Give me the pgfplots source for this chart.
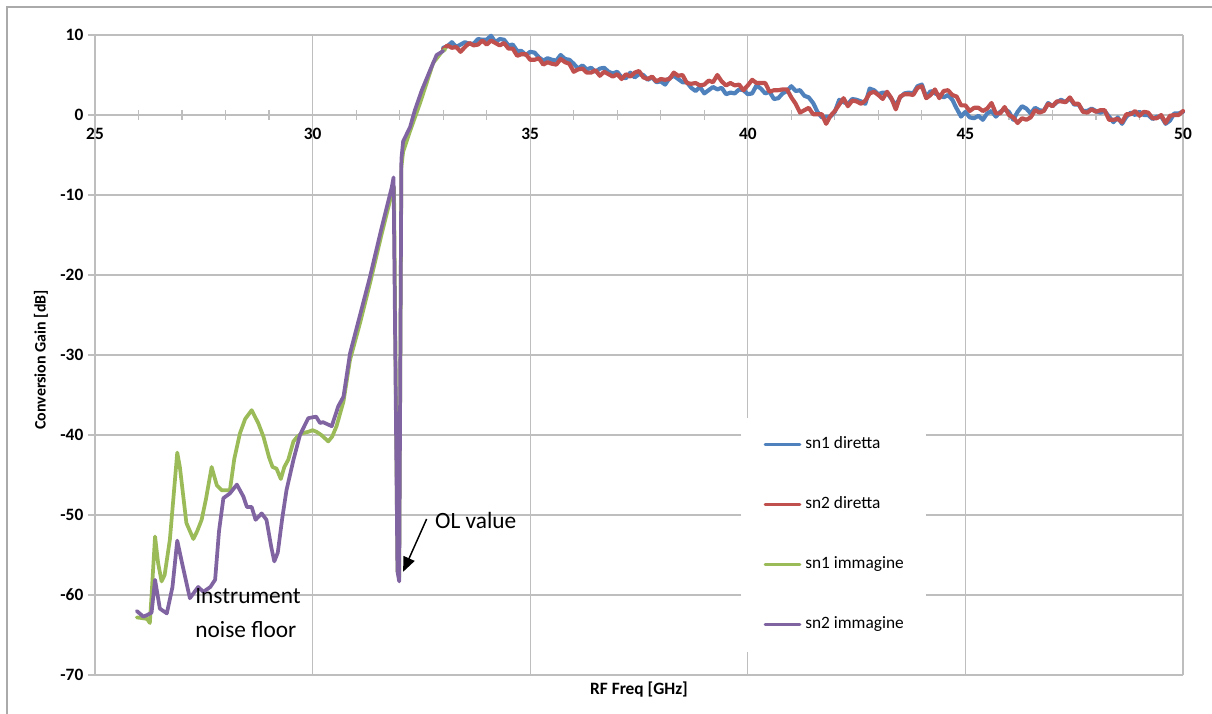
\documentclass[border=0pt]{standalone}
\usepackage{pgfplots}
\pgfplotsset{compat=1.18}
\usepackage{fontspec}
\setmainfont{Carlito}
\usetikzlibrary{arrows.meta}
\definecolor{cblue}{RGB}{79,129,189}
\definecolor{cred}{RGB}{192,80,77}
\definecolor{cgreen}{RGB}{155,187,89}
\definecolor{cpurple}{RGB}{128,100,162}
\definecolor{gridc}{RGB}{190,190,190}
\definecolor{framec}{RGB}{170,170,170}
\begin{document}
\begin{tikzpicture}[x=0.75pt,y=0.75pt]
\useasboundingbox (0,0) rectangle (1212,713);
\draw[framec, line width=1pt] (7,-20) -- (7,706) -- (1240,706);
\begin{axis}[
  at={(71.25pt,28.5pt)}, anchor=south west,
  scale only axis, width=816pt, height=480pt,
  xmin=25, xmax=50, ymin=-70, ymax=10,
  axis x line=middle, axis y line=left,
  every inner x axis line/.append style={-},
  every outer x axis line/.append style={-},
  every outer y axis line/.append style={-},
  axis line style={-, draw=gridc, line width=1pt},
  hide obscured x ticks=false, hide obscured y ticks=false,
  xtick={25,30,35,40,45,50}, xticklabels={25,30,35,40,45,50},
  ytick={-70,-60,-50,-40,-30,-20,-10,0,10},
  yticklabels={-70,-60,-50,-40,-30,-20,-10,0,10},
  minor x tick num=4,
  xtick align=center, ytick align=outside,
  major tick length=5.25pt, minor tick length=7.5pt,
  tick style={draw=gridc, line width=0.9pt},
  xmajorgrids, ymajorgrids,
  major grid style={draw=gridc, line width=1pt},
  ticklabel style={font=\bfseries\fontsize{13}{15}\selectfont, text=black},
  xticklabel style={anchor=north, yshift=-4pt},
  legend cell align=left,
  legend image code/.code={\draw[#1, line width=2.2pt] (0pt,0pt) -- (26pt,0pt);},
  legend style={at={(axis description cs:0.679,0.219)}, anchor=center,
    fill=white, draw=none, inner xsep=17pt, inner ysep=14pt,
    row sep=33pt, column sep=3pt,
    font=\fontsize{13}{15}\selectfont,
    nodes={inner sep=0pt, text height=9pt, text depth=3pt}},
  every axis plot/.append style={line width=2.8pt, line join=round, line cap=round},
  clip=false,
]
\addplot[cblue, line width=3.1pt] coordinates {(33.0,8.4)(33.1,8.6)(33.2,9.1)(33.3,8.5)(33.4,8.8)(33.5,9.1)(33.6,8.9)(33.7,8.9)(33.8,9.5)(33.9,9.4)(34.0,9.4)(34.1,9.9)(34.2,9.1)(34.3,9.5)(34.4,9.4)(34.5,8.7)(34.6,8.8)(34.7,8.0)(34.8,8.0)(34.9,7.5)(35.0,7.9)(35.1,7.8)(35.2,7.2)(35.3,6.8)(35.4,7.1)(35.5,6.9)(35.6,6.8)(35.7,7.5)(35.8,7.0)(35.9,6.9)(36.0,6.4)(36.1,5.8)(36.2,6.2)(36.3,5.7)(36.4,5.9)(36.5,5.4)(36.6,5.8)(36.7,5.9)(36.8,5.4)(36.9,5.2)(37.0,5.4)(37.1,4.7)(37.2,4.6)(37.3,5.3)(37.4,4.7)(37.5,5.1)(37.6,5.0)(37.7,4.4)(37.8,4.7)(37.9,4.1)(38.0,4.2)(38.1,3.8)(38.2,4.6)(38.3,4.9)(38.4,4.5)(38.5,4.1)(38.6,4.1)(38.7,3.4)(38.8,3.0)(38.9,3.5)(39.0,2.7)(39.1,3.1)(39.2,3.5)(39.3,3.2)(39.4,3.4)(39.5,2.6)(39.6,2.8)(39.7,2.7)(39.8,3.2)(39.9,3.1)(40.0,2.6)(40.1,2.7)(40.2,3.7)(40.3,3.3)(40.4,2.7)(40.5,2.9)(40.6,2.0)(40.7,2.1)(40.8,2.7)(40.9,3.0)(41.0,3.6)(41.1,3.0)(41.2,3.1)(41.3,2.4)(41.4,2.2)(41.5,1.5)(41.6,0.4)(41.7,-0.3)(41.8,-0.2)(41.9,-0.2)(42.0,0.4)(42.1,1.9)(42.2,1.6)(42.3,1.4)(42.4,2.0)(42.5,1.9)(42.6,1.7)(42.7,1.4)(42.8,3.3)(42.9,3.1)(43.0,2.6)(43.1,2.8)(43.2,2.8)(43.3,2.0)(43.4,1.2)(43.5,2.2)(43.6,2.7)(43.7,2.8)(43.8,2.7)(43.9,3.6)(44.0,3.8)(44.1,2.2)(44.2,3.0)(44.3,2.7)(44.4,2.5)(44.5,2.2)(44.6,2.5)(44.7,1.9)(44.8,0.8)(44.9,-0.2)(45.0,0.4)(45.1,-0.3)(45.2,-0.4)(45.3,-0.1)(45.4,-0.6)(45.5,0.2)(45.6,0.5)(45.7,-0.2)(45.8,0.4)(45.9,0.7)(46.0,0.4)(46.1,-0.6)(46.2,0.4)(46.3,1.1)(46.4,0.8)(46.5,0.2)(46.6,0.9)(46.7,0.6)(46.8,0.5)(46.9,1.5)(47.0,1.1)(47.1,1.6)(47.2,1.9)(47.3,1.6)(47.4,2.1)(47.5,1.3)(47.6,1.3)(47.7,0.5)(47.8,0.5)(47.9,0.8)(48.0,0.5)(48.1,0.3)(48.2,0.5)(48.3,-0.2)(48.4,-0.9)(48.5,-0.3)(48.6,-1.1)(48.7,-0.2)(48.8,0.3)(48.9,0.0)(49.0,0.4)(49.1,0.0)(49.2,0.0)(49.3,-0.5)(49.4,-0.2)(49.5,-0.2)(49.6,-1.1)(49.7,-0.7)(49.8,0.2)(49.9,0.2)(50.0,0.4)};
\addlegendentry{sn1 diretta}
\addplot[cred, line width=3.1pt] coordinates {(33.0,8.2)(33.1,8.7)(33.2,8.4)(33.3,8.5)(33.4,7.9)(33.5,8.5)(33.6,9.0)(33.7,8.7)(33.8,8.8)(33.9,9.3)(34.0,8.8)(34.1,9.3)(34.2,9.0)(34.3,8.7)(34.4,9.0)(34.5,8.3)(34.6,8.3)(34.7,7.4)(34.8,7.6)(34.9,7.6)(35.0,6.9)(35.1,6.9)(35.2,7.1)(35.3,6.3)(35.4,6.6)(35.5,6.4)(35.6,6.3)(35.7,7.0)(35.8,6.6)(35.9,6.4)(36.0,5.4)(36.1,5.7)(36.2,5.8)(36.3,5.3)(36.4,5.3)(36.5,5.6)(36.6,4.9)(36.7,5.4)(36.8,5.1)(36.9,4.8)(37.0,5.1)(37.1,4.5)(37.2,5.1)(37.3,4.8)(37.4,5.3)(37.5,5.5)(37.6,4.7)(37.7,4.5)(37.8,4.8)(37.9,4.2)(38.0,4.5)(38.1,4.4)(38.2,4.5)(38.3,5.3)(38.4,4.9)(38.5,5.0)(38.6,4.0)(38.7,3.9)(38.8,4.0)(38.9,3.7)(39.0,3.8)(39.1,4.3)(39.2,4.1)(39.3,5.0)(39.4,4.2)(39.5,3.7)(39.6,4.0)(39.7,3.7)(39.8,3.8)(39.9,3.1)(40.0,3.7)(40.1,4.4)(40.2,4.0)(40.3,4.0)(40.4,4.0)(40.5,2.9)(40.6,3.1)(40.7,3.1)(40.8,3.2)(40.9,3.2)(41.0,2.2)(41.1,1.4)(41.2,0.3)(41.3,0.6)(41.4,0.9)(41.5,0.1)(41.6,0.1)(41.7,0.1)(41.8,-1.1)(41.9,-0.1)(42.0,0.5)(42.1,1.3)(42.2,2.1)(42.3,1.1)(42.4,1.8)(42.5,1.7)(42.6,1.4)(42.7,1.8)(42.8,2.7)(42.9,2.9)(43.0,2.5)(43.1,2.0)(43.2,2.9)(43.3,2.1)(43.4,0.7)(43.5,2.3)(43.6,2.6)(43.7,2.6)(43.8,2.5)(43.9,3.4)(44.0,3.6)(44.1,2.1)(44.2,2.5)(44.3,3.2)(44.4,2.1)(44.5,3.0)(44.6,3.1)(44.7,2.5)(44.8,2.3)(44.9,1.2)(45.0,1.2)(45.1,0.5)(45.2,0.9)(45.3,0.9)(45.4,0.5)(45.5,0.8)(45.6,1.5)(45.7,0.2)(45.8,0.2)(45.9,1.0)(46.0,0.0)(46.1,-0.3)(46.2,-1.0)(46.3,-0.4)(46.4,-0.6)(46.5,-0.3)(46.6,0.6)(46.7,0.3)(46.8,0.5)(46.9,1.4)(47.0,1.1)(47.1,1.7)(47.2,1.7)(47.3,1.6)(47.4,2.2)(47.5,1.4)(47.6,1.4)(47.7,0.4)(47.8,0.3)(47.9,0.7)(48.0,0.4)(48.1,0.6)(48.2,0.6)(48.3,-0.6)(48.4,-0.6)(48.5,-0.5)(48.6,-0.9)(48.7,0.1)(48.8,0.1)(48.9,0.5)(49.0,-0.1)(49.1,0.4)(49.2,0.3)(49.3,-0.4)(49.4,-0.4)(49.5,0.0)(49.6,-1.0)(49.7,-0.1)(49.8,0.0)(49.9,0.0)(50.0,0.5)};
\addlegendentry{sn2 diretta}
\addplot[cgreen] coordinates {(25.96,-62.8)(26.1,-62.9)(26.2,-63.0)(26.26,-63.5)(26.3,-60)(26.38,-52.7)(26.45,-56)(26.53,-58.3)(26.6,-57.5)(26.72,-53.1)(26.8,-48)(26.89,-42.2)(26.95,-44)(27.1,-51.0)(27.26,-53.0)(27.35,-52)(27.45,-50.6)(27.55,-48)(27.68,-44.0)(27.8,-46.3)(27.91,-46.9)(28.1,-46.9)(28.2,-43)(28.33,-39.8)(28.45,-38)(28.6,-36.9)(28.75,-38.5)(28.87,-40.2)(29.0,-42.8)(29.08,-44.0)(29.17,-44.2)(29.27,-45.5)(29.35,-44)(29.44,-43.1)(29.56,-40.8)(29.65,-40.2)(29.75,-39.8)(29.9,-39.6)(30.0,-39.4)(30.09,-39.6)(30.2,-40.0)(30.36,-40.8)(30.45,-40.2)(30.55,-38.9)(30.71,-35.8)(30.86,-30.6)(31.09,-26.0)(31.32,-21.0)(31.59,-14.8)(31.82,-9.8)(31.87,-9.0)(31.95,-57.0)(31.99,-57.8)(32.04,-6.5)(32.08,-4.6)(32.24,-2.0)(32.47,1.5)(32.77,6.5)(32.97,7.9)(33.05,8.2)};
\addlegendentry{sn1 immagine}
\addplot[cpurple] coordinates {(25.96,-62.0)(26.11,-62.7)(26.2,-62.5)(26.3,-62.2)(26.38,-58.1)(26.49,-61.7)(26.65,-62.3)(26.78,-59)(26.89,-53.2)(27.0,-56)(27.18,-60.4)(27.37,-59.0)(27.49,-59.6)(27.65,-59.0)(27.76,-58.1)(27.85,-52)(27.95,-47.9)(28.1,-47.3)(28.26,-46.2)(28.41,-47.7)(28.49,-49.0)(28.6,-49.0)(28.69,-50.6)(28.83,-49.8)(28.94,-50.6)(29.05,-54)(29.12,-55.8)(29.2,-54.7)(29.3,-50.5)(29.4,-46.9)(29.56,-43.1)(29.71,-40.0)(29.9,-37.9)(30.08,-37.7)(30.17,-38.5)(30.24,-38.4)(30.44,-38.9)(30.59,-36.4)(30.71,-35.2)(30.86,-29.8)(31.09,-25.0)(31.32,-20.2)(31.59,-14.0)(31.82,-9.0)(31.86,-7.8)(31.95,-57.0)(31.99,-58.3)(32.04,-5.5)(32.08,-3.3)(32.24,-1.5)(32.35,0.6)(32.51,3.1)(32.7,5.6)(32.85,7.5)(33.0,8.0)};
\addlegendentry{sn2 immagine}
\node[anchor=base west, font=\fontsize{17.5}{20}\selectfont, inner sep=0pt] at (axis cs:27.30,-61.1) {Instrument};
\node[anchor=base west, font=\fontsize{17.5}{20}\selectfont, inner sep=0pt] at (axis cs:27.30,-65.25) {noise floor};
\node[anchor=base west, font=\fontsize{17.5}{20}\selectfont, inner sep=0pt] at (axis cs:32.81,-51.75) {OL value};
\draw[-{Triangle[length=11pt,width=9pt]}, line width=1.1pt, black] (axis cs:32.62,-50.5) -- (axis cs:32.08,-57.1);
\end{axis}
\node[font=\bfseries\fontsize{13}{15}\selectfont] at (639,23) {RF Freq [GHz]};
\node[rotate=90, font=\bfseries\fontsize{12}{14}\selectfont] at (41,353) {Conversion Gain [dB]};
\end{tikzpicture}
\end{document}
